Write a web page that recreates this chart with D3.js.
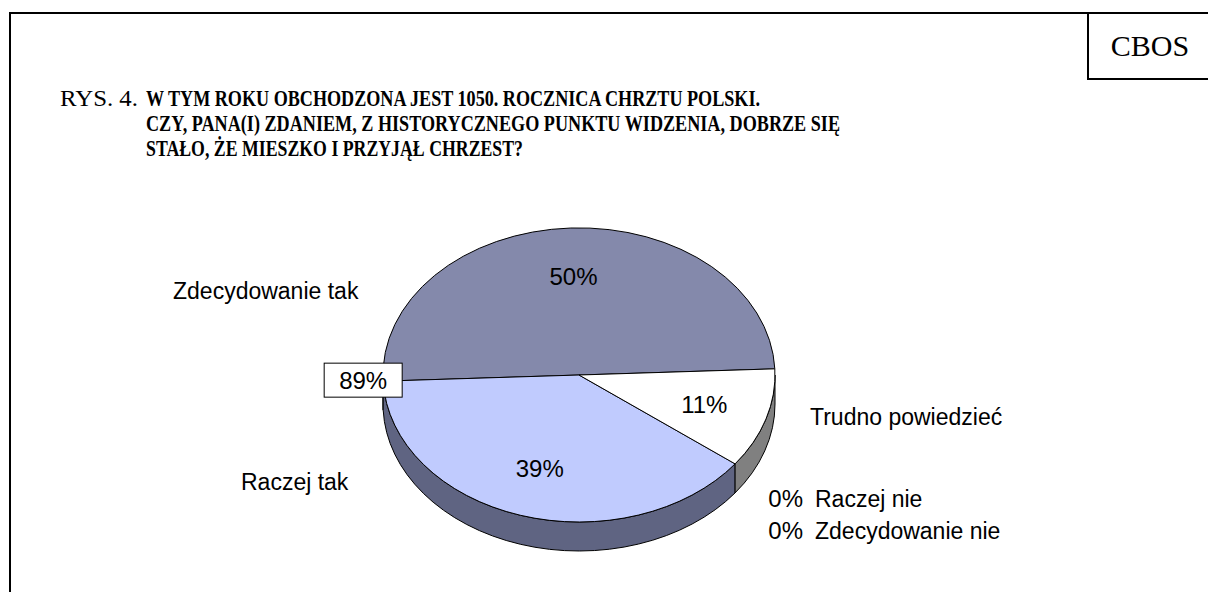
<!DOCTYPE html>
<html lang="pl">
<head>
    <meta charset="UTF-8">
    <title>Chrzest Polski - CBOS</title>
    <script src="https://d3js.org/d3.v7.min.js"></script>
    <style>
        body { margin: 0; background: #fff; }
        svg { display: block; }
        .serif { font-family: "Liberation Serif", "Times New Roman", serif; }
        .sans { font-family: "Liberation Sans", Arial, sans-serif; fill: #000; }
    </style>
</head>
<body>
<script>
    // data
    const categories = ["Zdecydowanie tak", "Raczej tak", "Raczej nie", "Zdecydowanie nie", "Trudno powiedzieć"];
    const values = [50, 39, 0, 0, 11];
    const topColors = ["#8489AB", "#C0CBFE", "#6E7396", "#3E4160", "#FFFFFF"];
    const sideColors = ["#44475E", "#5F6482", "#4A4E6A", "#2A2C40", "#808080"];
    const titleLines = [
        "W TYM ROKU OBCHODZONA JEST 1050. ROCZNICA CHRZTU POLSKI.",
        "CZY, PANA(I) ZDANIEM, Z HISTORYCZNEGO PUNKTU WIDZENIA, DOBRZE SIĘ",
        "STAŁO, ŻE MIESZKO I PRZYJĄŁ CHRZEST?"
    ];

    const width = 1208, height = 592;
    const svg = d3.select("body").append("svg")
        .attr("width", width)
        .attr("height", height);

    // frame + CBOS box
    svg.append("path")
        .attr("d", "M10,592 V13 H1208")
        .attr("fill", "none").attr("stroke", "#000").attr("stroke-width", 2);
    svg.append("path")
        .attr("d", "M1088,13 V79 H1208")
        .attr("fill", "none").attr("stroke", "#000").attr("stroke-width", 2);
    svg.append("text").attr("class", "serif")
        .attr("x", 1150).attr("y", 56)
        .attr("text-anchor", "middle")
        .attr("font-size", 30)
        .text("CBOS");

    // title
    svg.append("text").attr("class", "serif")
        .attr("x", 60).attr("y", 106)
        .attr("font-size", 24)
        .attr("textLength", 78)
        .attr("lengthAdjust", "spacingAndGlyphs")
        .text("RYS. 4.");
    const titleLayout = [
        { x: 146, y: 106, w: 614 },
        { x: 146, y: 131, w: 694 },
        { x: 146, y: 156, w: 377 }
    ];
    titleLines.forEach((t, i) => {
        svg.append("text").attr("class", "serif")
            .attr("x", titleLayout[i].x).attr("y", titleLayout[i].y)
            .attr("font-size", 24)
            .attr("font-weight", "bold")
            .attr("textLength", titleLayout[i].w)
            .attr("lengthAdjust", "spacingAndGlyphs")
            .text(t);
    });

    // 3D pie
    const cx = 579, cy = 375, rx = 196, ry = 147, depth = 29;
    const start = 87.6 * Math.PI / 180;
    const pie = d3.pie().sort(null)
        .value(d => d.v)
        .startAngle(start)
        .endAngle(start - 2 * Math.PI);
    const slices = pie(values.map((v, i) => ({ v, i })));

    const pt = (a, dy) => [cx + rx * Math.sin(a), cy - ry * Math.cos(a) + (dy || 0)];

    // side walls (front half only)
    const sides = svg.append("g");
    slices.forEach(s => {
        if (s.data.v === 0) return;
        const a0 = Math.min(s.startAngle, s.endAngle);
        const a1 = Math.max(s.startAngle, s.endAngle);
        for (let k = -2; k <= 1; k++) {
            const lo = Math.max(a0, Math.PI / 2 + 2 * Math.PI * k);
            const hi = Math.min(a1, 3 * Math.PI / 2 + 2 * Math.PI * k);
            if (hi > lo) {
                const p0 = pt(lo), p1 = pt(hi), p2 = pt(hi, depth), p3 = pt(lo, depth);
                sides.append("path")
                    .attr("d", `M${p0} A${rx},${ry} 0 0 1 ${p1} L${p2} A${rx},${ry} 0 0 0 ${p3} Z`)
                    .attr("fill", sideColors[s.data.i])
                    .attr("stroke", "#000")
                    .attr("stroke-width", 1);
            }
        }
    });

    // top face
    const arc = d3.arc().innerRadius(0).outerRadius(rx);
    const topG = svg.append("g")
        .attr("transform", `translate(${cx},${cy}) scale(1,${ry / rx})`);
    topG.selectAll("path")
        .data(slices.filter(s => s.data.v > 0))
        .join("path")
        .attr("d", arc)
        .attr("fill", d => topColors[d.data.i])
        .attr("stroke", "#000")
        .attr("stroke-width", 1)
        .attr("vector-effect", "non-scaling-stroke");

    // percentage labels inside slices
    const labelArc = d3.arc().innerRadius(rx * 0.67).outerRadius(rx * 0.67);
    const pct = v => v + "%";
    svg.append("g").selectAll("text")
        .data(slices.filter(s => s.data.v > 0))
        .join("text")
        .attr("class", "sans")
        .attr("font-size", 24)
        .attr("text-anchor", "middle")
        .attr("dy", "0.35em")
        .attr("x", d => cx + labelArc.centroid(d)[0])
        .attr("y", d => cy + labelArc.centroid(d)[1] * ry / rx)
        .text(d => pct(d.data.v));

    // category labels
    const nameLayout = {
        "Zdecydowanie tak": { x: 173, y: 299 },
        "Raczej tak": { x: 241, y: 490 },
        "Trudno powiedzieć": { x: 810, y: 425 },
        "Raczej nie": { x: 815, y: 507, pct: true },
        "Zdecydowanie nie": { x: 815, y: 539, pct: true }
    };
    categories.forEach((c, i) => {
        const L = nameLayout[c];
        svg.append("text").attr("class", "sans")
            .attr("x", L.x).attr("y", L.y)
            .attr("font-size", 23)
            .text(c);
        if (L.pct) {
            svg.append("text").attr("class", "sans")
                .attr("x", L.x - 12).attr("y", L.y)
                .attr("text-anchor", "end")
                .attr("font-size", 24)
                .text(pct(values[i]));
        }
    });

    // "tak" total callout at left edge of the pie
    const split = pt(slices[0].endAngle);
    const total = d3.sum(values.slice(0, 2));
    const boxW = 78, boxH = 34;
    const bx = split[0] - 20, by = split[1] - 1;
    svg.append("rect")
        .attr("x", bx - boxW / 2).attr("y", by - boxH / 2)
        .attr("width", boxW).attr("height", boxH)
        .attr("fill", "#fff").attr("stroke", "#000").attr("stroke-width", 1);
    svg.append("text").attr("class", "sans")
        .attr("x", bx).attr("y", by)
        .attr("dy", "0.35em")
        .attr("text-anchor", "middle")
        .attr("font-size", 24)
        .text(pct(total));
</script>
</body>
</html>
